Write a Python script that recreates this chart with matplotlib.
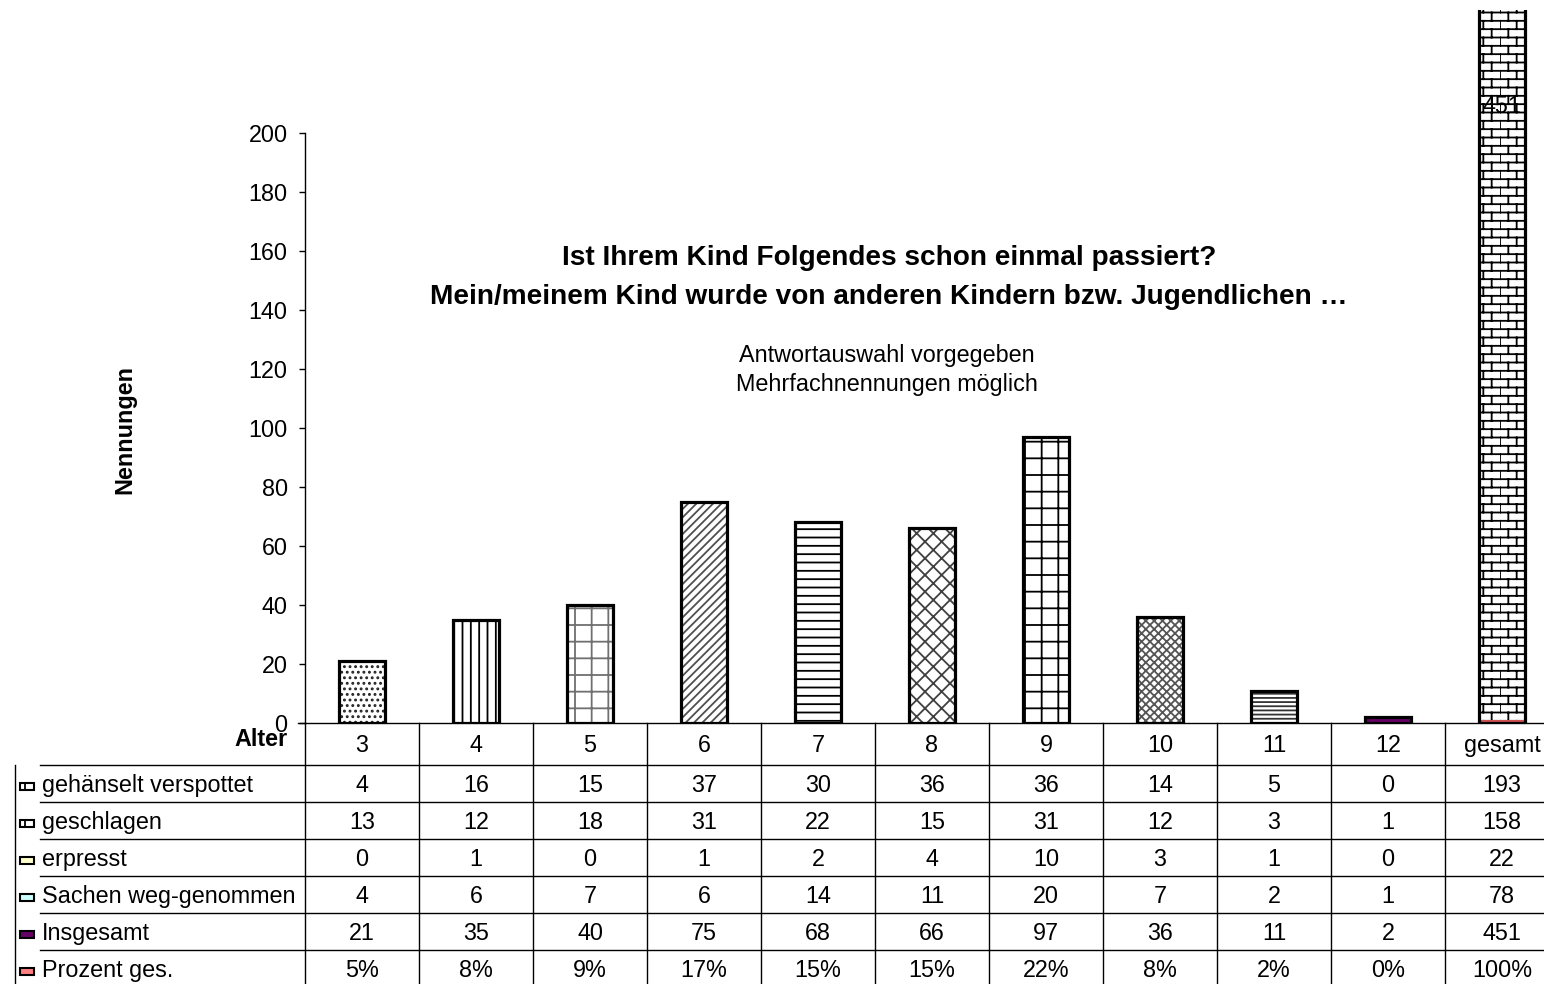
import numpy as np
import matplotlib
matplotlib.use("Agg")
import matplotlib.pyplot as plt
import matplotlib.hatch as mhatch
from matplotlib.path import Path
from matplotlib.lines import Line2D
from matplotlib.patches import Rectangle
from matplotlib.transforms import Bbox, TransformedBbox

# ---------------- data ----------------
categories = ['3', '4', '5', '6', '7', '8', '9', '10', '11', '12', 'gesamt']
gehaenselt = [4, 16, 15, 37, 30, 36, 36, 14, 5, 0, 193]
geschlagen = [13, 12, 18, 31, 22, 15, 31, 12, 3, 1, 158]
erpresst = [0, 1, 0, 1, 2, 4, 10, 3, 1, 0, 22]
sachen = [4, 6, 7, 6, 14, 11, 20, 7, 2, 1, 78]
insgesamt = [21, 35, 40, 75, 68, 66, 97, 36, 11, 2, 451]
prozent = [5, 8, 9, 17, 15, 15, 22, 8, 2, 0, 100]

row_labels = ['gehänselt verspottet', 'geschlagen', 'erpresst',
              'Sachen weg-genommen', 'Insgesamt', 'Prozent ges.']
row_values = [gehaenselt, geschlagen, erpresst, sachen, insgesamt,
              [f'{p}%' for p in prozent]]
key_colors = ['white', 'white', '#FFFFCC', '#CCFFFF', '#660066', '#FF8080']
key_hatch = ['|', '|', None, None, None, None]

title_lines = ['Ist Ihrem Kind Folgendes schon einmal passiert?',
               'Mein/meinem Kind wurde von anderen Kindern bzw. Jugendlichen …']
sub_lines = ['Antwortauswahl vorgegeben', 'Mehrfachnennungen möglich']


# ---------------- custom brick hatch (uses '*') ----------------
class BrickHatch(mhatch.HatchPatternBase):
    def __init__(self, hatch, density):
        n = hatch.count('*')
        self.rows = 2 * density * n
        self.cols = density * n
        if n:
            self.num_vertices = (self.rows * 2 + self.rows * self.cols * 2
                                 + self.cols * 2)
        else:
            self.num_vertices = 0

    def set_vertices_and_codes(self, vertices, codes):
        rows, cols = self.rows, self.cols
        step = 1.0 / rows
        segs = []
        for k in range(rows):
            y = (k + 0.5) * step
            segs.append(((0.0, y), (1.0, y)))
            off = 0.5 * (k % 2)
            y2 = min(y + step, 1.0)
            for j in range(cols):
                x = (j + off) / cols
                segs.append(((x, y), (x, y2)))
        off = 0.5 * ((rows - 1) % 2)
        for j in range(cols):
            x = (j + off) / cols
            segs.append(((x, 0.0), (x, 0.5 * step)))
        i = 0
        for a, b in segs:
            vertices[i] = a
            vertices[i + 1] = b
            codes[i] = Path.MOVETO
            codes[i + 1] = Path.LINETO
            i += 2


mhatch._hatch_types = [t for t in mhatch._hatch_types
                       if t is not mhatch.Stars] + [BrickHatch]

# ---------------- figure ----------------
W, H = 1544, 984
FS = 16.8
plt.rcParams['font.family'] = ['Liberation Sans', 'DejaVu Sans']
plt.rcParams['hatch.linewidth'] = 1.3
fig = plt.figure(figsize=(W / 100, H / 100), dpi=100)


def fx(px):
    return px / W


def fy(py):
    return 1 - py / H


ax_left, ax_right, ax_top, ax_bot = 305, 1559, 133, 723
ax = fig.add_axes([fx(ax_left), fy(ax_bot), fx(ax_right - ax_left),
                   (ax_bot - ax_top) / H])
ax.set_xlim(-0.5, len(categories) - 0.5)
ax.set_ylim(0, 200)
ax.set_yticks(np.arange(0, 201, 20))
ax.set_xticks([])
for s in ['top', 'right']:
    ax.spines[s].set_visible(False)
ax.spines['left'].set_linewidth(1.0)
ax.spines['bottom'].set_linewidth(1.0)
ax.tick_params(axis='y', direction='out', length=4.5, width=1.0, pad=8,
               labelsize=FS)
ax.set_facecolor('none')

styles = [
    dict(hatch='...', hc='#222222'),
    dict(hatch='||', hc='black'),
    dict(hatch='+', hc='#707070'),
    dict(hatch='////', hc='#505050'),
    dict(hatch='--', hc='black'),
    dict(hatch='xx', hc='#404040'),
    dict(hatch='+', hc='black'),
    dict(hatch='xxxx', hc='#555555'),
    dict(hatch='----', hc='#333333'),
    dict(hatch=None, hc=None, fc='#660066'),
    dict(hatch='*', hc='black'),
]

x = np.arange(len(categories))
bw = 0.4
clipbox = TransformedBbox(Bbox.from_extents(0, fy(ax_bot), 1, fy(10)),
                          fig.transFigure)
for i in range(len(categories)):
    st = styles[i]
    fc = st.get('fc', 'white')
    layers = []
    bb = ax.bar(x[i], insgesamt[i], width=bw, color=fc, lw=0, zorder=2)
    layers += list(bb)
    if st['hatch']:
        hb = ax.bar(x[i], insgesamt[i], width=bw, fill=False,
                    hatch=st['hatch'], edgecolor=st['hc'], lw=0, zorder=3)
        layers += list(hb)
    ob = ax.bar(x[i], insgesamt[i], width=bw, fill=False, edgecolor='black',
                lw=2.3, zorder=4)
    layers += list(ob)
    if insgesamt[i] > 200:
        for p in layers:
            p.set_clip_path(None)
            p.set_clip_on(True)
            p.set_clip_box(clipbox)

# Prozent ges. series (as fraction) drawn as thin bars at the base
ax.bar(x, np.array(prozent) / 100.0, width=bw - 0.02, color='#D05050',
       lw=0, zorder=3.5)

# data label of the clipped total bar
ax.text(x[-1], 209, str(insgesamt[-1]), ha='center', va='center',
        fontsize=FS, clip_on=False, zorder=6)

# axis line extension to the left
fig.add_artist(Line2D([fx(298), fx(ax_left)], [fy(ax_bot), fy(ax_bot)],
                      transform=fig.transFigure, color='black', lw=1.0))

# y label
fig.text(fx(125), fy(430), 'Nennungen', rotation=90, ha='center',
         va='center', fontsize=FS, fontweight='bold')

# titles
for k, t in enumerate(title_lines):
    fig.text(fx(889), fy(258 + 39 * k), t, ha='center', va='center',
             fontsize=20.2, fontweight='bold')
for k, t in enumerate(sub_lines):
    fig.text(fx(887), fy(355 + 29 * k), t, ha='center', va='center',
             fontsize=FS)

# ---------------- data table ----------------
col_w = 114
header_c = 744
row_c = [784 + 37 * k for k in range(len(row_labels))]
row_lines = [765 + 37 * k for k in range(len(row_labels))]
BL = 8  # baseline offset from row centre (px)

lkw = dict(transform=fig.transFigure, color='black', lw=1.0)
for k in range(len(categories) + 1):
    xp = ax_left + col_w * k
    fig.add_artist(Line2D([fx(xp), fx(xp)], [fy(ax_bot), fy(H + 5)], **lkw))
for yp in row_lines:
    fig.add_artist(Line2D([fx(40), fx(W + 5)], [fy(yp), fy(yp)], **lkw))
fig.add_artist(Line2D([fx(15), fx(15)], [fy(row_lines[0]), fy(H + 5)], **lkw))

fig.text(fx(288), fy(738 + BL), 'Alter', ha='right', va='baseline',
         fontsize=FS, fontweight='bold')

for j, c in enumerate(categories):
    xc = ax_left + col_w * (j + 0.5)
    fig.text(fx(xc), fy(header_c + BL), c, ha='center', va='baseline',
             fontsize=FS)

for r, (lab, vals) in enumerate(zip(row_labels, row_values)):
    yc = row_c[r]
    fig.text(fx(42), fy(yc + BL), lab, ha='left', va='baseline', fontsize=FS)
    key = Rectangle((fx(20), fy(yc + 6)), fx(14), 7 / H,
                    transform=fig.transFigure, facecolor=key_colors[r],
                    edgecolor='black', lw=1.5, hatch=key_hatch[r])
    fig.add_artist(key)
    for j, v in enumerate(vals):
        xc = ax_left + col_w * (j + 0.5)
        fig.text(fx(xc), fy(yc + BL), str(v), ha='center', va='baseline',
                 fontsize=FS)

fig.savefig('out.png', dpi=100)
